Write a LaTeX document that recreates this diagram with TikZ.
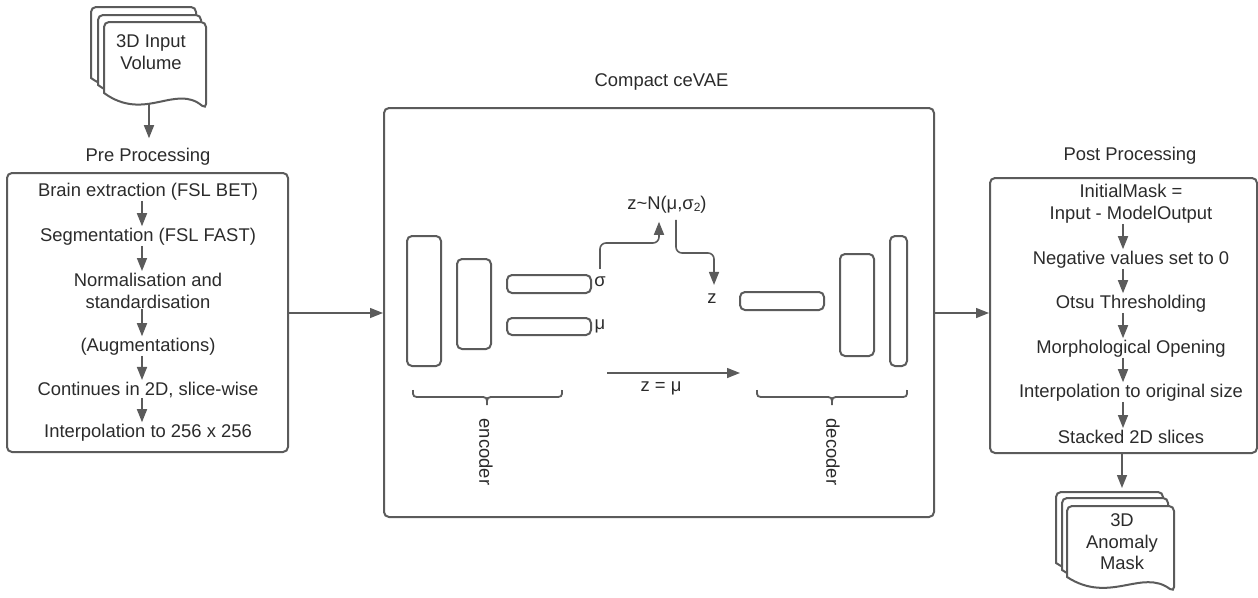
\documentclass[tikz,border=0pt]{standalone}
\usepackage{fontspec}
\setmainfont{Liberation Sans}
\usetikzlibrary{arrows.meta}
\definecolor{ln}{HTML}{5B5B5B}
\definecolor{tx}{HTML}{2B2B2B}
\newcommand\docsheet[5]{%
  \draw[sheet] (#1,#4) [rounded corners=5pt] -- (#1,#2) -- (#3,#2) -- (#3,{#4+#5}) [sharp corners]
    .. controls ({#1+0.7*(#3-#1)},{#4-0.6*#5}) and ({#1+0.4*(#3-#1)},{#4+1.85*#5}) .. (#1,#4) -- cycle;}
\newcommand\mysub[1]{\raisebox{-1.5pt}{\fontsize{12}{12}\selectfont #1}}
\begin{document}
\begin{tikzpicture}[x=1pt,y=-1pt,
  every node/.style={text=tx, font=\fontsize{18.4}{22}\selectfont, inner sep=0pt},
  sheet/.style={draw=ln, line width=2pt, fill=white},
  box/.style={draw=ln, line width=2pt, rounded corners=5pt, fill=none},
  bar/.style={draw=ln, line width=2pt, rounded corners=5pt},
  arr/.style={draw=ln, line width=1.6pt, -{Triangle[length=13pt,width=10pt]}},
  br/.style={draw=ln, line width=1.8pt},
  lbl/.style={align=center}]
\useasboundingbox (0,0) rectangle (1258,597);
% ---- input volume document
\docsheet{91}{7}{196}{78}{16}
\docsheet{98}{15}{201}{85}{16}
\docsheet{104}{22}{206}{93}{16}
\node[lbl] (vol) at (151,52.5) {3D Input\\Volume};
\coordinate (volb) at (149,104);
% ---- pre processing
\node (pretitle) at (148,157) {Pre Processing};
\node[box, minimum width=281pt, minimum height=279pt] (pre) at (147.5,312.5) {};
\coordinate (pax) at (142,0);
\node (p1) at (148,192) {Brain extraction (FSL BET)};
\node (p2) at (148,237) {Segmentation (FSL FAST)};
\node[lbl] (p3) at (148,291) {Normalisation and\\standardisation};
\node (p4) at (148,347) {(Augmentations)};
\node (p5) at (148,390) {Continues in 2D, slice-wise};
\node (p6) at (148,433) {Interpolation to 256 x 256};
\draw[arr] (volb) -- ([yshift=10pt]pretitle.north -| volb);
\foreach \a/\b in {p1/p2,p2/p3,p3/p4,p4/p5,p5/p6}
  \draw[arr, shorten >=2pt] (\a.south -| pax) -- (\b.north -| pax);
% ---- compact ceVAE
\node (ctitle) at (661.5,82) {Compact ceVAE};
\node[box, minimum width=550pt, minimum height=409pt] (cev) at (659,312.5) {};
\node[bar, minimum width=34pt, minimum height=130pt] (e1) at (424,301) {};
\node[bar, minimum width=34pt, minimum height=90pt] (e2) at (474,304) {};
\node[bar, minimum width=84pt, minimum height=18pt] (sig) at (549,284) {};
\node[bar, minimum width=84pt, minimum height=17pt] (mu) at (549,326.5) {};
\node (siglab) at (600,282) {σ};
\node (mulab) at (600,326) {μ};
\node (N) at (667,205) {z\textasciitilde N(μ,σ\mysub{2})};
\node (zlab) at (712,299) {z};
\node[bar, minimum width=84pt, minimum height=18pt] (d1) at (782,301) {};
\node[bar, minimum width=34pt, minimum height=102pt] (d2) at (857,305) {};
\node[bar, minimum width=17pt, minimum height=130pt] (d3) at (898.5,301) {};
\coordinate (k1) at (659,243);
\coordinate (k2) at (676,253);
\coordinate (k3) at (714,253);
\draw[arr, rounded corners=6pt] ([yshift=8pt]siglab.north) |- (k1) -- ([yshift=-8pt]N.south -| k1);
\draw[arr, rounded corners=6pt] ([yshift=-6pt]N.south -| k2) -- (k2) -- (k3) -- ([yshift=9pt]zlab.north -| k3);
\coordinate (zs) at (607,373);
\coordinate (zt) at (740,373);
\draw[arr, line width=1.4pt] (zs) -- (zt);
\node (zmu) at (661,388) {z = μ};
% braces
\draw[br] (413,390) .. controls (413,397) .. (421,397) -- (479,397) .. controls (487,397) .. (487,405)
  .. controls (487,397) .. (495,397) -- (554,397) .. controls (562,397) .. (562,390);
\draw[br] (757,390) .. controls (757,397) .. (765,397) -- (824,397) .. controls (832,397) .. (832,405)
  .. controls (832,397) .. (840,397) -- (899,397) .. controls (907,397) .. (907,390);
\node[rotate=-90] (enc) at (486,452) {encoder};
\node[rotate=-90] (dec) at (833,452) {decoder};
% ---- post processing
\node (posttitle) at (1130,156) {Post Processing};
\node[box, minimum width=267pt, minimum height=275pt] (post) at (1123.5,315.5) {};
\coordinate (qax) at (1123,0);
\node[lbl] (q1) at (1131,204) {InitialMask =\\Input - ModelOutput};
\node (q2) at (1131,260) {Negative values set to 0};
\node (q3) at (1131,304) {Otsu Thresholding};
\node (q4) at (1131,349) {Morphological Opening};
\node (q5) at (1131,393) {Interpolation to original size};
\node (q6) at (1131,437) {Stacked 2D slices};
\foreach \a/\b in {q1/q2,q2/q3,q3/q4,q4/q5,q5/q6}
  \draw[arr, shorten >=2pt] (\a.south -| qax) -- (\b.north -| qax);
% ---- connections between stages
\draw[arr, line width=1.4pt] (pre.east |- 0,313) -- (cev.west |- 0,313);
\draw[arr, line width=1.4pt] (cev.east |- 0,313) -- (post.west |- 0,313);
% ---- anomaly mask document
\coordinate (maskin) at (1122,488);
\draw[arr, line width=1.4pt] (post.south -| maskin) -- (maskin);
\docsheet{1056}{492}{1163}{563}{15}
\docsheet{1062}{498}{1168}{570}{15}
\docsheet{1067}{506}{1174}{577}{15}
\node[lbl, font=\fontsize{18.4}{21.5}\selectfont] (mask) at (1122,542) {3D\\Anomaly\\Mask};
\end{tikzpicture}
\end{document}
